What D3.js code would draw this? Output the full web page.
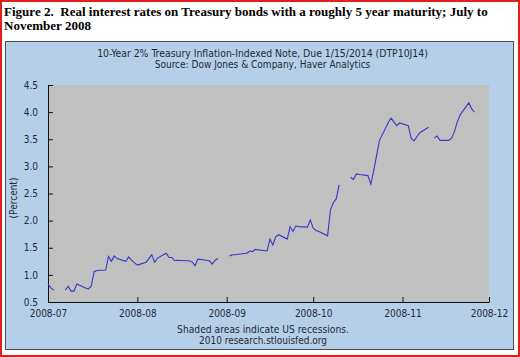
<!DOCTYPE html>
<html><head><meta charset="utf-8">
<script src="https://cdn.jsdelivr.net/npm/d3@7/dist/d3.min.js"></script>
<style>html,body{margin:0;padding:0;background:#fff;}svg{display:block;}</style>
</head><body>
<script>
// ---- data ----
const julDays = ["07-01","07-02","07-03","07-04","07-07","07-08","07-09","07-10","07-11","07-14","07-15","07-16","07-17","07-18","07-21","07-22","07-23","07-24","07-25","07-28","07-29","07-30","07-31"];
const julVals = [0.83,0.76,0.72,null,0.72,0.79,0.70,0.70,0.83,0.76,0.74,0.79,1.06,1.08,1.09,1.34,1.25,1.35,1.30,1.25,1.33,1.27,1.22];
const augDays = ["08-01","08-04","08-05","08-06","08-07","08-08","08-11","08-12","08-13","08-14","08-15","08-18","08-19","08-20","08-21","08-22","08-25","08-26","08-27","08-28","08-29"];
const augVals = [1.18,1.23,1.30,1.37,1.23,1.31,1.40,1.32,1.32,1.26,1.27,1.26,1.26,1.24,1.17,1.29,1.27,1.26,1.20,1.27,1.30];
const sepDays = ["09-01","09-02","09-03","09-04","09-05","09-08","09-09","09-10","09-11","09-12","09-15","09-16","09-17","09-18","09-19","09-22","09-23","09-24","09-25","09-26","09-29","09-30"];
const sepVals = [null,1.35,1.37,1.37,1.38,1.40,1.44,1.43,1.47,1.46,1.44,1.66,1.55,1.70,1.74,1.66,1.89,1.80,1.90,1.89,1.88,2.01];
const octDays = ["10-01","10-02","10-03","10-06","10-07","10-08","10-09","10-10","10-13","10-14","10-15","10-16","10-17","10-20","10-21","10-22","10-23","10-24","10-27","10-28","10-29","10-30","10-31"];
const octVals = [1.86,1.82,1.80,1.72,2.20,2.33,2.40,2.66,null,2.80,2.76,2.86,2.85,2.83,2.67,2.92,3.20,3.48,3.80,3.89,3.82,3.75,3.80];
const novDays = ["11-03","11-04","11-05","11-06","11-07","11-10","11-11","11-12","11-13","11-14","11-17","11-18","11-19","11-20","11-21","11-24","11-25","11-26"];
const novVals = [3.75,3.52,3.47,3.55,3.62,3.72,null,3.52,3.56,3.48,3.48,3.52,3.64,3.82,3.95,4.17,4.06,4.00];
const xTickLabels = ["2008-07","2008-08","2008-09","2008-10","2008-11","2008-12"];
const yTickLabels = ["0.5","1.0","1.5","2.0","2.5","3.0","3.5","4.0","4.5"];

const figTitle1 = "Figure 2.\u00a0 Real interest rates on Treasury bonds with a roughly 5 year maturity; July to";
const figTitle2 = "November 2008";
const chartTitle1 = "10-Year 2% Treasury Inflation-Indexed Note, Due 1/15/2014 (DTP10J14)";
const chartTitle2 = "Source: Dow Jones & Company, Haver Analytics";
const foot1 = "Shaded areas indicate US recessions.";
const foot2 = "2010 research.stlouisfed.org";
const yLabel = "(Percent)";

// ---- build ----
const parse = d3.utcParse("%Y-%m-%d");
const allDays = [].concat(julDays, augDays, sepDays, octDays, novDays);
const allVals = [].concat(julVals, augVals, sepVals, octVals, novVals);
const data = allDays.map((d, i) => ({date: parse("2008-" + d), v: allVals[i]}));

const W = 520, H = 357;
const svg = d3.select("body").append("svg").attr("width", W).attr("height", H);
const font = "'DejaVu Sans Condensed','DejaVu Sans',Verdana,sans-serif";
const textCol = "#1e2a38";

// scale font-size so a text spans a target width
function fit(sel, target) {
  const fs = +sel.attr("font-size");
  const w = sel.node().getComputedTextLength();
  if (w > 0) sel.attr("font-size", (fs * target / w).toFixed(2));
  return sel;
}

svg.append("rect").attr("x",0).attr("y",0).attr("width",W).attr("height",H).attr("fill","#fff");
// red frame
svg.append("rect").attr("x",1).attr("y",1).attr("width",W-2).attr("height",H-2)
  .attr("fill","none").attr("stroke","#e0201c").attr("stroke-width",2);

// figure title
const serif = "'Liberation Serif','Times New Roman',serif";
const ft1 = svg.append("text").attr("x",4).attr("y",16).attr("font-family",serif)
  .attr("font-weight","bold").attr("font-size",14).attr("fill","#000").text(figTitle1);
fit(ft1, 484);
const ft2 = svg.append("text").attr("x",4).attr("y",30).attr("font-family",serif)
  .attr("font-weight","bold").attr("font-size",ft1.attr("font-size")).attr("fill","#000").text(figTitle2);

// panel
svg.append("rect").attr("x",5.5).attr("y",41.5).attr("width",508).attr("height",308)
  .attr("fill","#b6cfe8").attr("stroke","#4a4f57").attr("stroke-width",1);

const m = {l:48, r:489, t:85, b:302};
svg.append("rect").attr("x",m.l).attr("y",m.t).attr("width",m.r-m.l).attr("height",m.b-m.t)
  .attr("fill","#c0c0c0");

const x = d3.scaleUtc().domain([parse("2008-07-01"), parse("2008-12-01")]).range([m.l, m.r]);
const y = d3.scaleLinear().domain([0.5, 4.5]).range([m.b, m.t]);

const xAxis = d3.axisBottom(x)
  .tickValues(xTickLabels.map(s => parse(s + "-01")))
  .tickFormat(d3.utcFormat("%Y-%m"))
  .tickSizeInner(-5).tickSizeOuter(0).tickPadding(8);
const gx = svg.append("g").attr("transform", `translate(0,${m.b})`).call(xAxis);
const yAxis = d3.axisLeft(y)
  .tickValues(yTickLabels.map(Number))
  .tickFormat(d3.format(".1f"))
  .tickSizeInner(-5).tickSizeOuter(0).tickPadding(10);
const gy = svg.append("g").attr("transform", `translate(${m.l},0)`).call(yAxis);
[gx, gy].forEach(g => {
  g.select(".domain").attr("stroke","#111").attr("stroke-width",1);
  g.selectAll(".tick line").attr("stroke","#111");
  g.selectAll(".tick text").attr("font-family",font).attr("font-size",10).attr("fill",textCol);
});

// line
const line = d3.line().defined(d => d.v != null).x(d => x(d.date)).y(d => y(d.v));
svg.append("path").datum(data).attr("d", line).attr("fill","none")
  .attr("stroke","#3a36c8").attr("stroke-width",1.1);

// texts
const t = (s, xx, yy, target) => fit(svg.append("text").attr("x",xx).attr("y",yy).attr("text-anchor","middle")
  .attr("font-family",font).attr("font-size",10).attr("fill",textCol).text(s), target);
t(chartTitle1, 262.5, 56.5, 331);
t(chartTitle2, 262.5, 68, 216);
t(foot1, 263, 333, 172);
t(foot2, 263, 344, 128);
svg.append("text").attr("transform","translate(17,198) rotate(-90)").attr("text-anchor","middle")
  .attr("font-family",font).attr("font-size",10).attr("fill",textCol).text(yLabel);
</script>
</body></html>
